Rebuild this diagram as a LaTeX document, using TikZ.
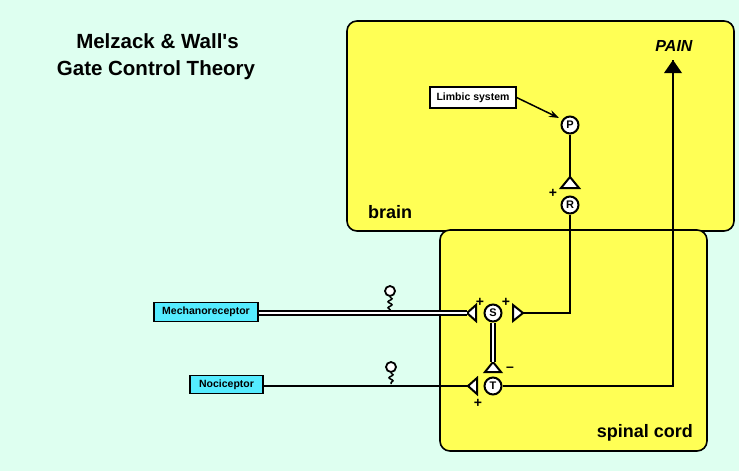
\documentclass[tikz,border=0pt]{standalone}
\usepackage{fontspec}
\setmainfont{Liberation Sans}
\usetikzlibrary{arrows.meta,decorations.pathmorphing}
\definecolor{bg}{RGB}{222,255,240}
\definecolor{yel}{RGB}{255,255,85}
\definecolor{cyn}{RGB}{85,236,255}
\begin{document}
\begin{tikzpicture}[x=1pt,y=-1pt,
  region/.style={draw=black,line width=1.6pt,fill=yel,rounded corners=10pt},
  neuron/.style={circle,draw=black,line width=2pt,fill=white,minimum size=17pt,inner sep=0pt,font=\bfseries\fontsize{11}{11}\selectfont},
  tri/.style={draw=black,line width=2pt,fill=white,line join=miter},
  wire/.style={line width=2pt},
  dwire/.style={double=white,double distance=1.6pt,line width=2pt},
  lbl/.style={draw=black,line width=1.3pt,inner sep=0pt,font=\bfseries\fontsize{10.5}{11}\selectfont},
  recep/.style={circle,draw=black,line width=1.8pt,fill=white,minimum size=10pt,inner sep=0pt},
  stem/.style={line width=1.5pt,decorate,decoration={snake,amplitude=2pt,segment length=6pt}},
  sign/.style={font=\bfseries\fontsize{14}{14}\selectfont,inner sep=0pt},
  region label/.style={font=\bfseries\fontsize{18}{18}\selectfont,inner sep=0pt}
]
\fill[bg] (0,0) rectangle (739,471);
\useasboundingbox (0,0) rectangle (739,471);

% regions
\path[region] (347,21) rectangle (734,231);
\path[region] (440,230) rectangle (707,451);

% title
\node[font=\bfseries\fontsize{20.5}{26}\selectfont,anchor=base,inner sep=0pt] (title1) at (157.5,48) {Melzack \& Wall\textquotesingle s};
\node[font=\bfseries\fontsize{20.5}{26}\selectfont,anchor=base,inner sep=0pt] (title2) at (156,75) {Gate Control Theory};

% region labels
\node[region label,anchor=base west] (brainlbl) at (368,218) {brain};
\node[region label,anchor=base east] (spinallbl) at (693,437) {spinal cord};
\node[font=\bfseries\itshape\fontsize{16}{16}\selectfont,inner sep=0pt] (pain) at (674,46) {PAIN};

% neurons
\node[neuron] (P) at (570,125) {P};
\node[neuron] (R) at (570,205) {R};
\node[neuron] (S) at (493,313) {S};
\node[neuron] (T) at (493,386) {T};

% triangles (synapses)
\coordinate (rtip) at (570,177);
\path[tri] (rtip) -- (579,188) -- (561,188) -- cycle;
\coordinate (sltip) at (467,313);
\path[tri] (sltip) -- (476,305) -- (476,321) -- cycle;
\coordinate (srtip) at (523,313);
\path[tri] (srtip) -- (513,305) -- (513,321) -- cycle;
\coordinate (sbtip) at (493,362);
\path[tri] (sbtip) -- (501,372) -- (485,372) -- cycle;
\coordinate (tltip) at (468,386);
\path[tri] (tltip) -- (477,378) -- (477,394) -- cycle;

% input boxes
\node[lbl,fill=cyn,minimum width=104pt,minimum height=19pt] (mech) at (206,312) {Mechanoreceptor};
\node[lbl,fill=cyn,minimum width=73pt,minimum height=18pt] (noci) at (226.5,384.5) {Nociceptor};
\node[lbl,fill=white,minimum width=86pt,minimum height=21pt] (limbic) at (473,97.5) {Limbic system};

% connections
\draw[wire] (P.south) -- (rtip);
\coordinate (c1) at (570,313);
\draw[wire] (R.south) -- (c1) -- (srtip);
\coordinate (c2) at (673,386);
\coordinate (paintip) at (673,60);
\draw[wire] (T.east) -- (c2) -- (paintip);
\path[fill=black] (paintip) -- (682,73) -- (664,73) -- cycle;
\draw[dwire] (sltip -| mech.east) -- (sltip);
\draw[dwire] (S.south) -- (sbtip);
\draw[wire] (tltip -| noci.east) -- (tltip);
\coordinate (ptarget) at (559,118);
\draw[line width=1.5pt,-{Stealth[length=10pt,width=7pt]}] (limbic.east) -- (ptarget);

% receptors
\node[recep] (mr) at (390,291) {};
\node[recep] (nr) at (391,367) {};
\coordinate (mrfoot) at (390,310);
\coordinate (nrfoot) at (391,384);
\draw[stem] (mr.south) -- (mrfoot);
\draw[stem] (nr.south) -- (nrfoot);

% signs
\node[sign] (plusR) at (553,193) {+};
\node[sign] (plusSL) at (480,302) {+};
\node[sign] (plusSR) at (506,302) {+};
\node[sign] (plusT) at (478,403) {+};
\node[sign] (minusB) at (510,369) {--};
\end{tikzpicture}
\end{document}
